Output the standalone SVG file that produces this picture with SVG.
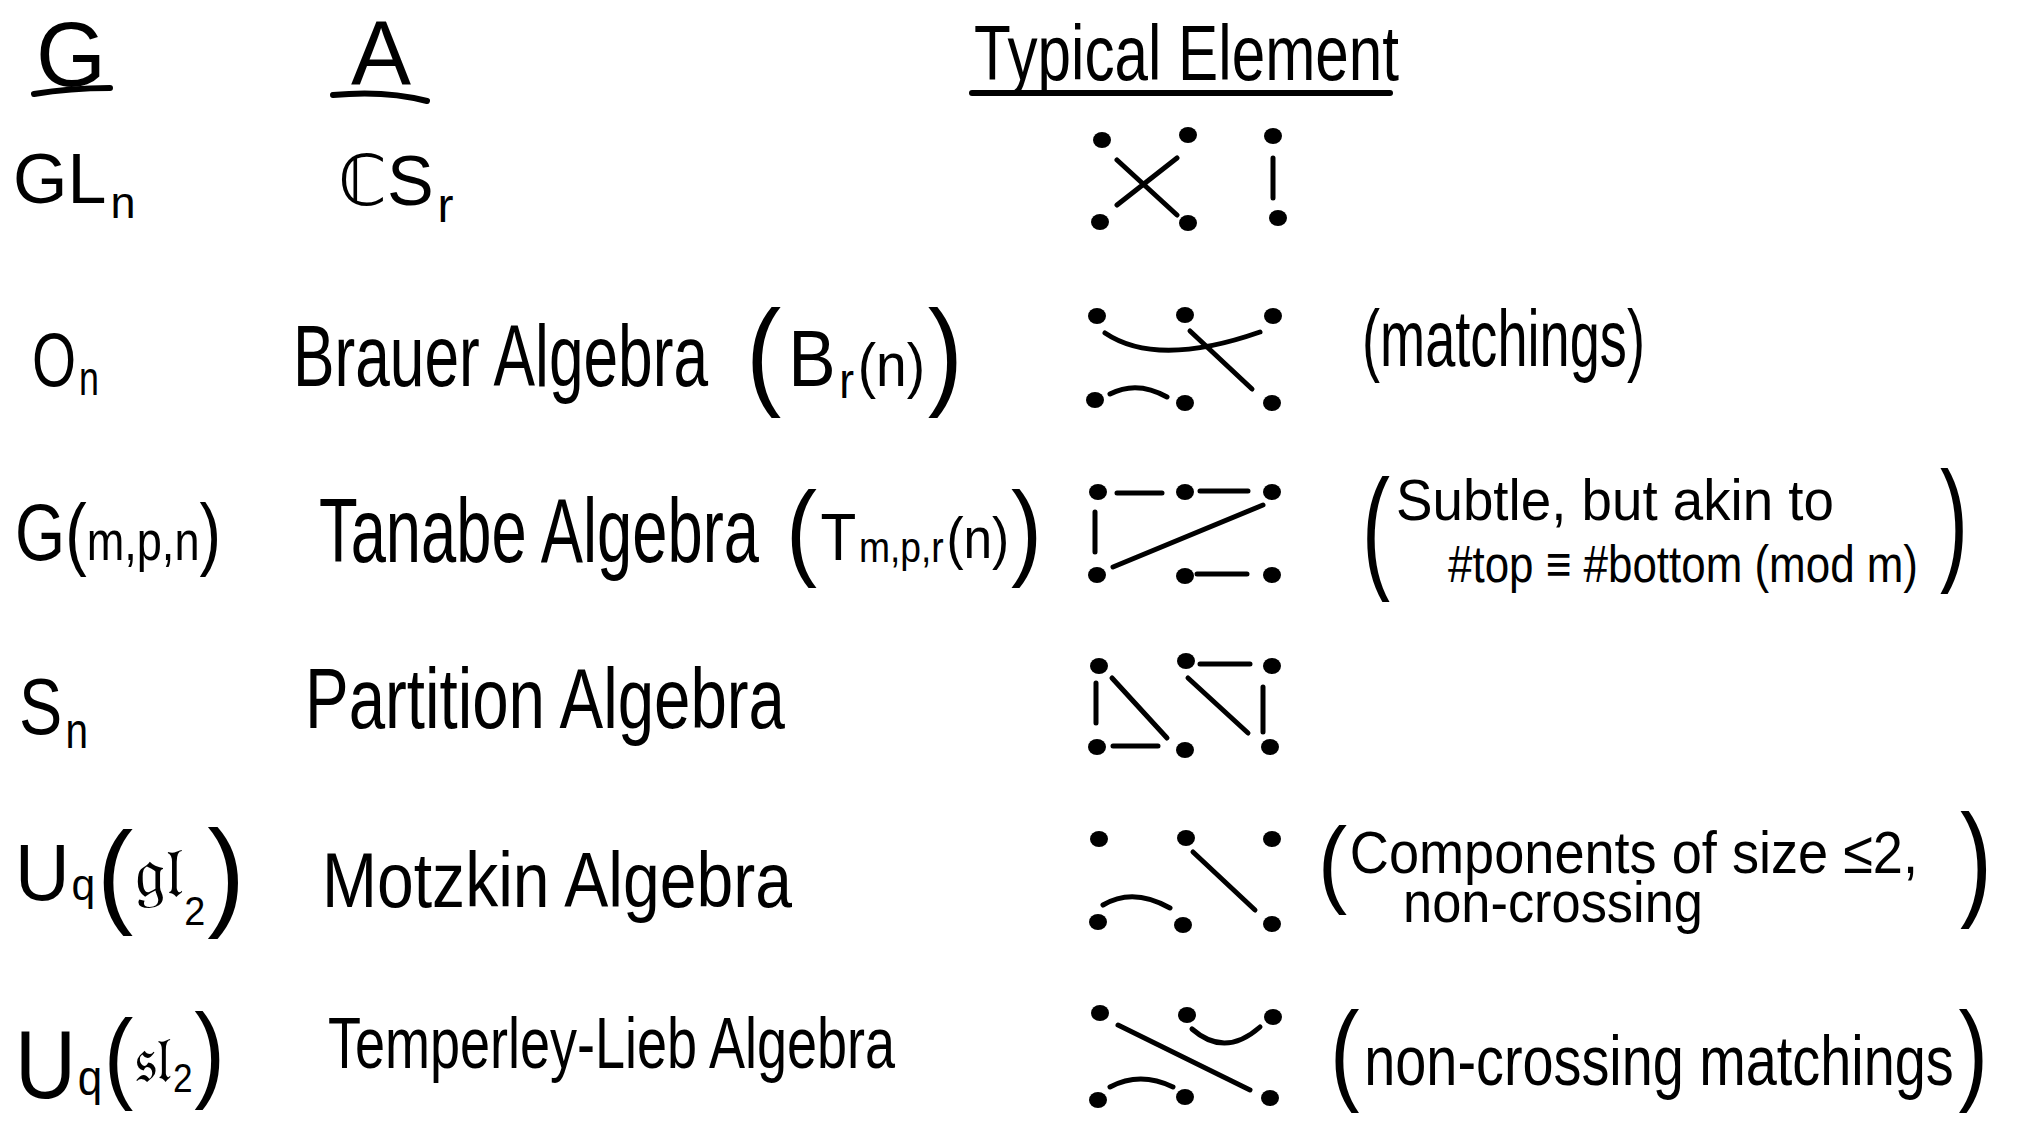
<svg xmlns="http://www.w3.org/2000/svg" width="2018" height="1133" viewBox="0 0 2018 1133">
<style>
text{font-family:"Liberation Sans","DejaVu Sans",sans-serif;fill:#000}
.e{stroke:#000;stroke-width:5;stroke-linecap:round;fill:none}
.u{stroke:#000;stroke-width:6;stroke-linecap:round;fill:none}
.d{fill:#000}
</style>
<rect width="2018" height="1133" fill="#fff"/>
<g id="header">
  <text x="36" y="86" font-size="90">G</text>
  <path class="u" d="M34 94 Q70 88 110 88"/>
  <text x="351" y="84" font-size="90">A</text>
  <path class="u" d="M333 95 Q385 90 427 101"/>
  <text x="974" y="80" font-size="78" textLength="425" lengthAdjust="spacingAndGlyphs">Typical Element</text>
  <path class="u" d="M972 93 L1390 93"/>
</g>
<g id="row1-label">
  <text x="13" y="203" font-size="70">GL<tspan font-size="45" dx="4" dy="15">n</tspan></text>
  <text x="338" y="205" font-size="70">ℂS<tspan font-size="48" dx="4" dy="17">r</tspan></text>
</g>
<g id="row2-label">
  <text x="32" y="386" font-size="76" textLength="67" lengthAdjust="spacingAndGlyphs">O<tspan font-size="48" dx="4" dy="9">n</tspan></text>
  <text x="293" y="386" font-size="88" textLength="415" lengthAdjust="spacingAndGlyphs">Brauer Algebra</text>
  <text x="746" y="393" font-size="119" textLength="217" lengthAdjust="spacingAndGlyphs">(<tspan font-size="80" dx="8" dy="-7">B</tspan><tspan font-size="50" dx="4" dy="12">r</tspan><tspan font-size="62" dx="4" dy="-12">(n)</tspan><tspan dx="3" dy="7">)</tspan></text>
  <text x="1362" y="366" font-size="80" textLength="283" lengthAdjust="spacingAndGlyphs">(matchings)</text>
</g>
<g id="row3-label">
  <text x="15" y="560" font-size="80" textLength="206" lengthAdjust="spacingAndGlyphs">G(<tspan font-size="56">m,p,n</tspan>)</text>
  <text x="319" y="562" font-size="90" textLength="440" lengthAdjust="spacingAndGlyphs">Tanabe Algebra</text>
  <text x="786" y="566" font-size="105" textLength="256" lengthAdjust="spacingAndGlyphs">(<tspan font-size="66" dx="4" dy="-6">T</tspan><tspan font-size="42" dx="3" dy="2">m,p,r</tspan><tspan font-size="58" dx="3" dy="-4">(n)</tspan><tspan dx="2" dy="8">)</tspan></text>
  <text x="1362" y="574" font-size="136" textLength="28" lengthAdjust="spacingAndGlyphs">(</text>
  <text x="1396" y="520" font-size="58" textLength="438" lengthAdjust="spacingAndGlyphs">Subtle, but akin to</text>
  <text x="1448" y="582" font-size="52" textLength="470" lengthAdjust="spacingAndGlyphs">#top ≡ #bottom (mod m)</text>
  <text x="1940" y="566" font-size="136" textLength="28" lengthAdjust="spacingAndGlyphs">)</text>
</g>
<g id="row4-label">
  <text x="19" y="734" font-size="80" textLength="69" lengthAdjust="spacingAndGlyphs">S<tspan font-size="50" dx="4" dy="14">n</tspan></text>
  <text x="305" y="728" font-size="86" textLength="480" lengthAdjust="spacingAndGlyphs">Partition Algebra</text>
</g>
<g id="row5-label">
  <text x="15" y="900" font-size="80" textLength="230" lengthAdjust="spacingAndGlyphs">U<tspan font-size="45" dx="2">q</tspan><tspan font-size="115" dx="2" dy="12">(</tspan><tspan font-size="72" dx="2" dy="-15">𝔤𝔩</tspan><tspan font-size="40" dx="2" dy="28">2</tspan><tspan font-size="120" dx="2" dy="-11">)</tspan></text>
  <text x="322" y="907" font-size="78" textLength="470" lengthAdjust="spacingAndGlyphs">Motzkin Algebra</text>
  <text x="1318" y="895" font-size="97" textLength="600" lengthAdjust="spacingAndGlyphs">(<tspan font-size="60" dx="3" dy="-22">Components of size ≤2,</tspan></text>
  <text x="1403" y="922" font-size="58" textLength="300" lengthAdjust="spacingAndGlyphs">non-crossing</text>
  <text x="1960" y="903" font-size="127" textLength="32" lengthAdjust="spacingAndGlyphs">)</text>
</g>
<g id="row6-label">
  <text x="15" y="1098" font-size="96" textLength="210" lengthAdjust="spacingAndGlyphs">U<tspan font-size="50" dx="2" dy="-3">q</tspan><tspan font-size="100" dx="2" dy="-5">(</tspan><tspan font-size="65" dx="2" dy="-8">𝔰𝔩</tspan><tspan font-size="40" dx="2" dy="10">2</tspan><tspan font-size="105" dx="2" dy="-4">)</tspan></text>
  <text x="328" y="1068" font-size="72" textLength="567" lengthAdjust="spacingAndGlyphs">Temperley-Lieb Algebra</text>
  <text x="1330" y="1090" font-size="111" textLength="658" lengthAdjust="spacingAndGlyphs">(<tspan font-size="70" dx="6" dy="-5">non-crossing matchings</tspan><tspan dx="6" dy="5">)</tspan></text>
</g>
<g id="element-1">
  <g class="d"><ellipse cx="1102" cy="140" rx="9" ry="8"/><ellipse cx="1188" cy="135" rx="9" ry="8"/><ellipse cx="1273" cy="136" rx="9" ry="8"/><ellipse cx="1100" cy="222" rx="9" ry="8"/><ellipse cx="1188" cy="223" rx="9" ry="8"/><ellipse cx="1278" cy="218" rx="9" ry="8"/></g>
</g>
<g id="element-2">
  <g class="d"><ellipse cx="1097" cy="316" rx="9" ry="8"/><ellipse cx="1185" cy="315" rx="9" ry="8"/><ellipse cx="1273" cy="316" rx="9" ry="8"/><ellipse cx="1095" cy="400" rx="9" ry="8"/><ellipse cx="1185" cy="403" rx="9" ry="8"/><ellipse cx="1272" cy="403" rx="9" ry="8"/></g>
</g>
<g id="element-3">
  <g class="d"><ellipse cx="1098" cy="492" rx="9" ry="8"/><ellipse cx="1185" cy="492" rx="9" ry="8"/><ellipse cx="1272" cy="492" rx="9" ry="8"/><ellipse cx="1097" cy="575" rx="9" ry="8"/><ellipse cx="1185" cy="576" rx="9" ry="8"/><ellipse cx="1272" cy="575" rx="9" ry="8"/></g>
</g>
<g id="element-4">
  <g class="d"><ellipse cx="1099" cy="666" rx="9" ry="8"/><ellipse cx="1186" cy="661" rx="9" ry="8"/><ellipse cx="1272" cy="666" rx="9" ry="8"/><ellipse cx="1097" cy="747" rx="9" ry="8"/><ellipse cx="1185" cy="750" rx="9" ry="8"/><ellipse cx="1270" cy="747" rx="9" ry="8"/></g>
</g>
<g id="element-5">
  <g class="d"><ellipse cx="1099" cy="839" rx="9" ry="8"/><ellipse cx="1186" cy="838" rx="9" ry="8"/><ellipse cx="1272" cy="839" rx="9" ry="8"/><ellipse cx="1098" cy="922" rx="9" ry="8"/><ellipse cx="1183" cy="925" rx="9" ry="8"/><ellipse cx="1272" cy="924" rx="9" ry="8"/></g>
</g>
<g id="element-6">
  <g class="d"><ellipse cx="1100" cy="1013" rx="9" ry="8"/><ellipse cx="1187" cy="1015" rx="9" ry="8"/><ellipse cx="1273" cy="1017" rx="9" ry="8"/><ellipse cx="1098" cy="1100" rx="9" ry="8"/><ellipse cx="1185" cy="1097" rx="9" ry="8"/><ellipse cx="1270" cy="1098" rx="9" ry="8"/></g>
</g>
<g id="connectors" class="e">
  <path d="M1117 160 L1177 215 M1177 158 L1117 205 M1273 158 L1273 198"/>
  <path d="M1105 333 Q1157 368 1260 332 M1190 331 L1252 389 M1110 394 Q1137 380 1167 397"/>
  <path d="M1117 493 L1162 493 M1200 491 L1248 491 M1095 512 L1095 552 M1113 567 L1263 505 M1197 574 L1247 574"/>
  <path d="M1096 683 L1096 723 M1112 678 L1167 738 M1113 746 L1158 746 M1200 664 L1250 664 M1188 678 L1248 733 M1263 687 L1263 732"/>
  <path d="M1193 852 L1255 910 M1103 905 Q1133 887 1170 908"/>
  <path d="M1118 1025 L1250 1090 M1192 1029 Q1225 1058 1260 1027 M1110 1087 Q1140 1071 1173 1087"/>
</g>
</svg>
